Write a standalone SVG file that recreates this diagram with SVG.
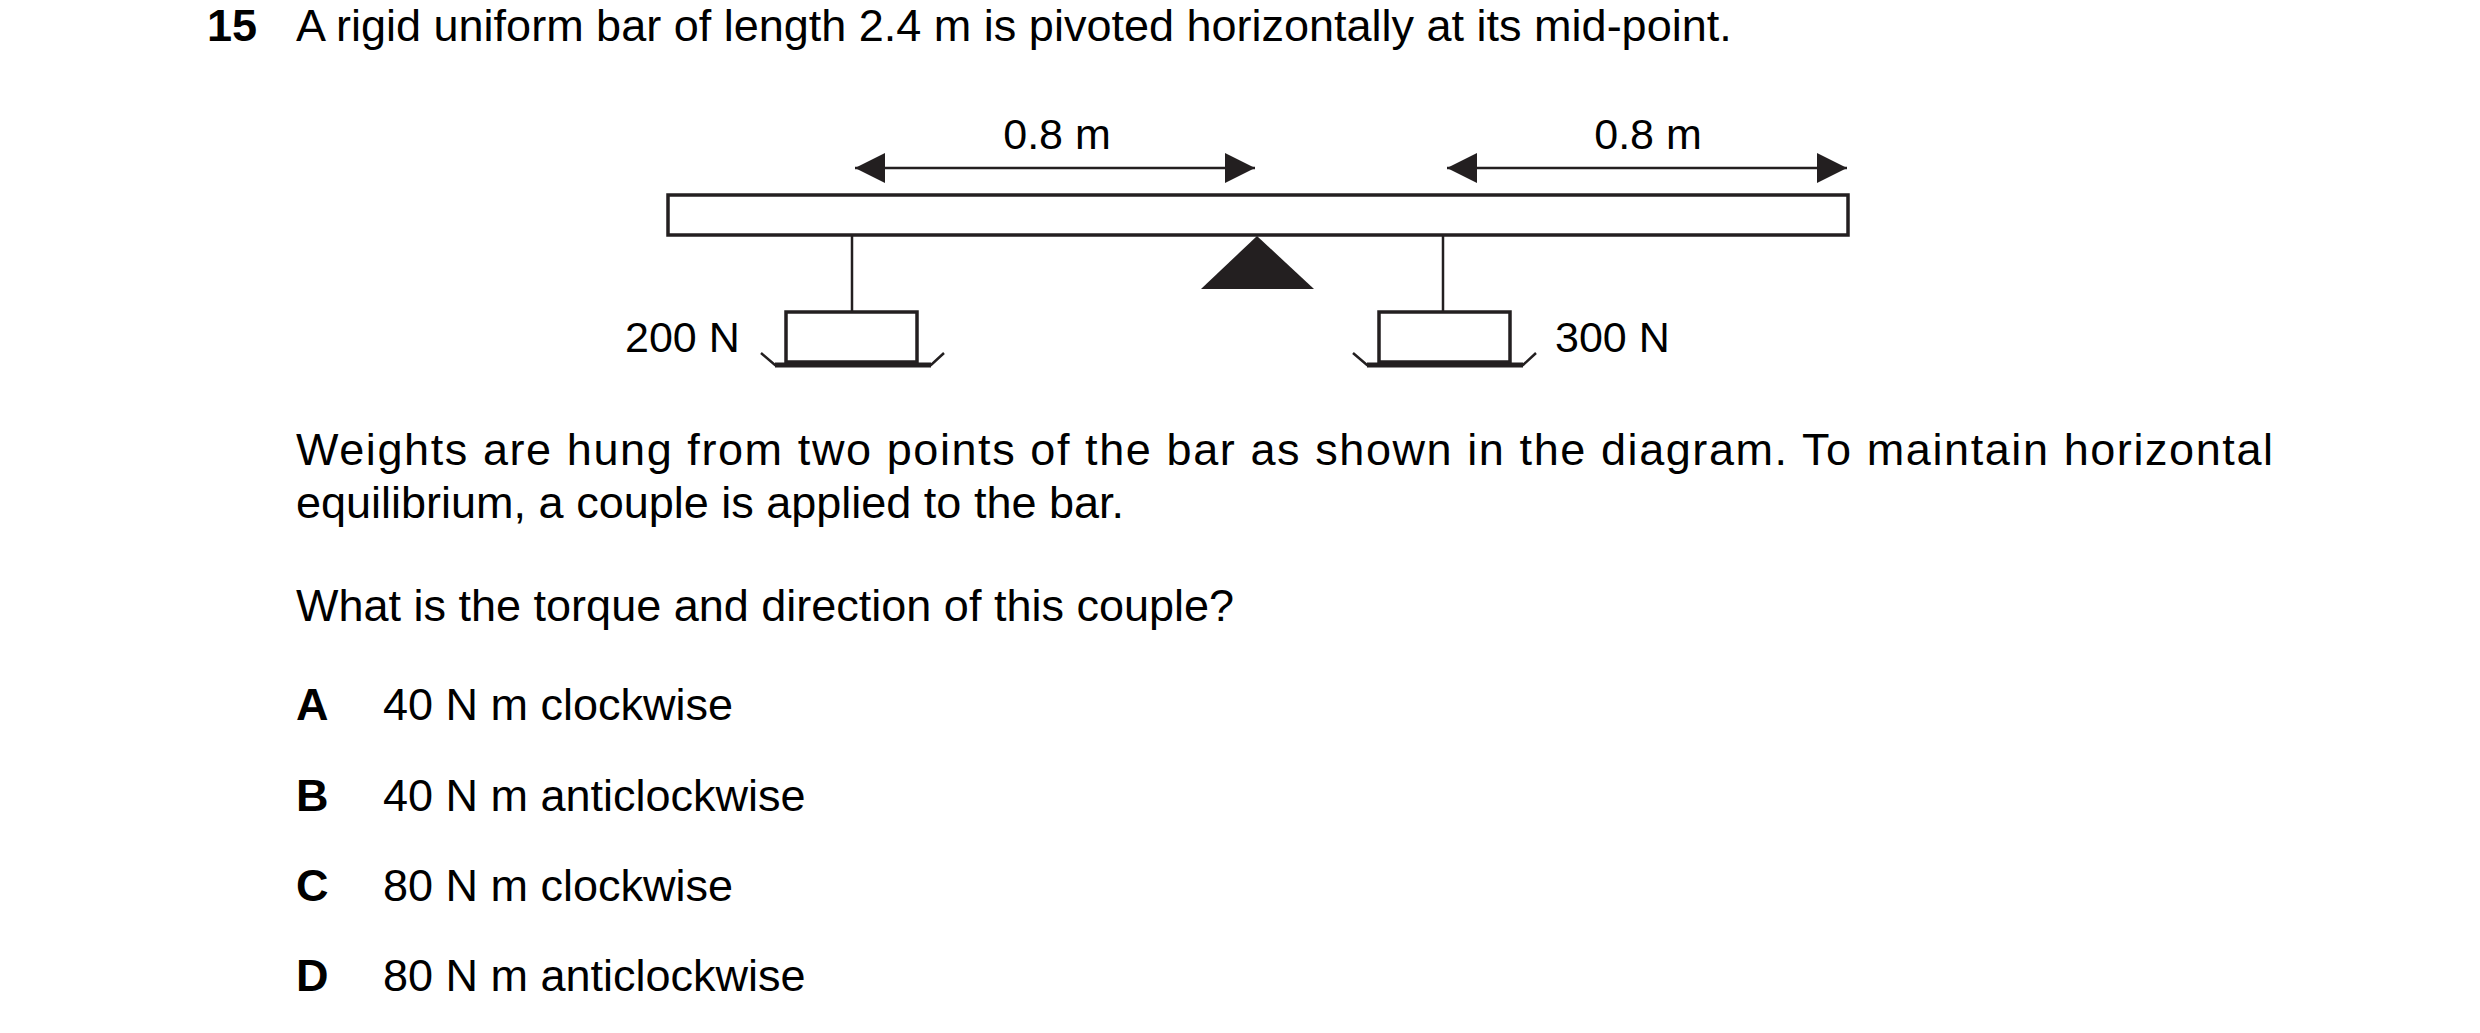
<svg xmlns="http://www.w3.org/2000/svg" width="2480" height="1033" viewBox="0 0 2480 1033">
<style>
text{font-family:"Liberation Sans",Arial,sans-serif;font-size:45px;fill:#000}
.d{font-size:43px}
.b{font-weight:bold}
.ln{stroke:#231f20;stroke-width:3.5;fill:none}
.th{stroke:#231f20;stroke-width:2.5;fill:none}
</style>
<defs>
<marker id="ah" viewBox="0 0 10 10" refX="10" refY="5" markerWidth="30" markerHeight="30" markerUnits="userSpaceOnUse" orient="auto-start-reverse"><path d="M0,0 L10,5 L0,10 Z" fill="#231f20"/></marker>
</defs>
<rect width="2480" height="1033" fill="#fff"/>
<text class="b" x="207" y="41">15</text>
<text x="296" y="41">A rigid uniform bar of length 2.4 m is pivoted horizontally at its mid-point.</text>
<g id="bar"><rect x="668" y="195" width="1180" height="40" class="ln"/></g>
<g id="pivot"><path d="M1257,236 L1314,289 L1201,289 Z" fill="#231f20"/></g>
<g id="w200">
<rect x="786" y="312" width="131" height="50" class="ln"/>
<path d="M761,353 L775,365 L931,365 L944,353" class="th"/>
<line x1="775" y1="365" x2="931" y2="365" stroke="#231f20" stroke-width="5"/>
<text class="d" x="625" y="352">200 N</text>
</g>
<g id="w300">
<rect x="1379" y="312" width="131" height="50" class="ln"/>
<path d="M1353,353 L1367,365 L1523,365 L1536,353" class="th"/>
<line x1="1367" y1="365" x2="1523" y2="365" stroke="#231f20" stroke-width="5"/>
<text class="d" x="1555" y="352">300 N</text>
</g>
<g id="connectors">
<line x1="855" y1="168" x2="1255" y2="168" class="th" marker-start="url(#ah)" marker-end="url(#ah)"/>
<line x1="1447" y1="168" x2="1847" y2="168" class="th" marker-start="url(#ah)" marker-end="url(#ah)"/>
<line x1="852" y1="236" x2="852" y2="312" class="th"/>
<line x1="1443" y1="236" x2="1443" y2="312" class="th"/>
</g>
<text class="d" x="1057" y="149" text-anchor="middle">0.8 m</text>
<text class="d" x="1648" y="149" text-anchor="middle">0.8 m</text>
<text x="296" y="465" textLength="1977" lengthAdjust="spacing">Weights are hung from two points of the bar as shown in the diagram. To maintain horizontal</text>
<text x="296" y="518">equilibrium, a couple is applied to the bar.</text>
<text x="296" y="621">What is the torque and direction of this couple?</text>
<text class="b" x="296" y="720">A</text><text x="383" y="720">40 N m clockwise</text>
<text class="b" x="296" y="811">B</text><text x="383" y="811">40 N m anticlockwise</text>
<text class="b" x="296" y="901">C</text><text x="383" y="901">80 N m clockwise</text>
<text class="b" x="296" y="991">D</text><text x="383" y="991">80 N m anticlockwise</text>
</svg>
